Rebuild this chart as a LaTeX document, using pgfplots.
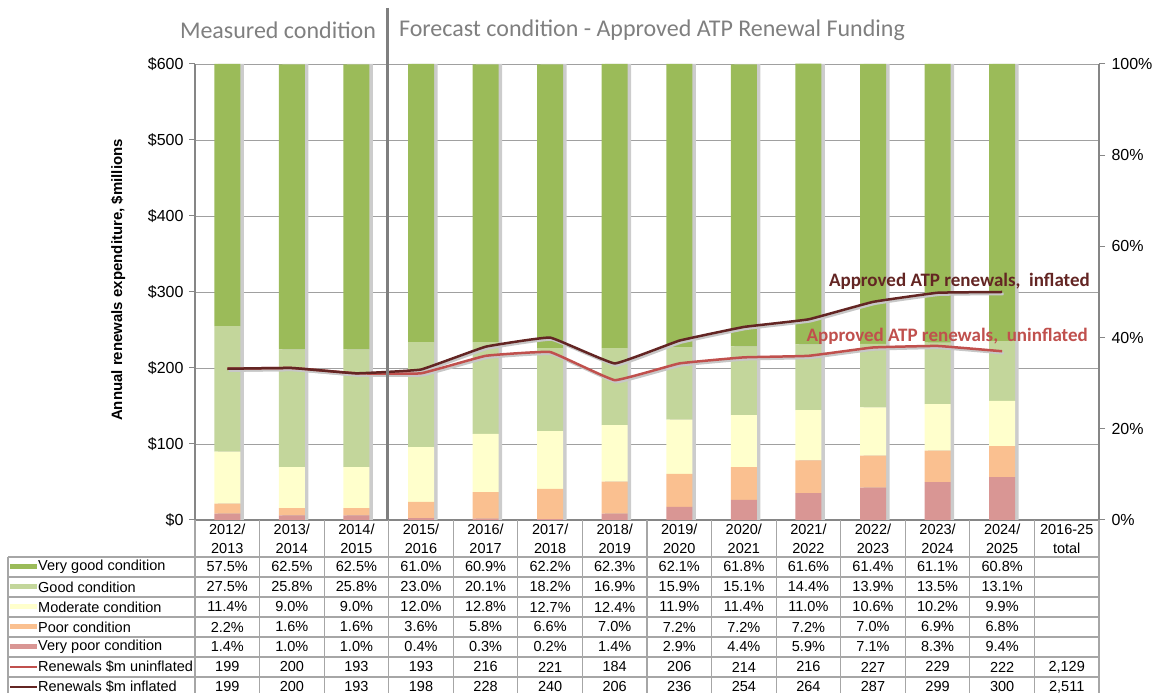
\documentclass[border=0pt]{standalone}
\usepackage{pgfplots}
\usepackage{pgfplotstable}
\pgfplotsset{compat=1.18}
\usepackage{fontspec}
\setmainfont{Liberation Sans}
\newfontfamily\calib{Carlito}
\pgfkeys{/pgf/number format/assume math mode=true}

\definecolor{vgood}{HTML}{9BBB59}
\definecolor{good}{HTML}{C3D69B}
\definecolor{moder}{HTML}{FFFFCC}
\definecolor{poor}{HTML}{FAC090}
\definecolor{vpoor}{HTML}{D99694}
\definecolor{uninf}{HTML}{C0504D}
\definecolor{infl}{HTML}{632523}
\definecolor{axgray}{HTML}{868686}
\definecolor{gridgray}{HTML}{A0A0A0}
\definecolor{titlegray}{HTML}{7F7F7F}
\definecolor{tablegray}{HTML}{A6A6A6}

\pgfplotstableread{
x  vpoor poor moder good vgood full uninf infl
0  1.4   2.2  11.4  27.5 57.5  100  199   199
1  1.0   1.6  9.0   25.8 62.5  100  200   200
2  1.0   1.6  9.0   25.8 62.5  100  193   193
3  0.4   3.6  12.0  23.0 61.0  100  193   198
4  0.3   5.8  12.8  20.1 60.9  100  216   228
5  0.2   6.6  12.7  18.2 62.2  100  221   240
6  1.4   7.0  12.4  16.9 62.3  100  184   206
7  2.9   7.2  11.9  15.9 62.1  100  206   236
8  4.4   7.2  11.4  15.1 61.8  100  214   254
9  5.9   7.2  11.0  14.4 61.6  100  216   264
10 7.1   7.0  10.6  13.9 61.4  100  227   287
11 8.3   6.9  10.2  13.5 61.1  100  229   299
12 9.4   6.8  9.9   13.1 60.8  100  222   300
}\data

\pgfplotsset{
  base/.style={
    at={(195pt,173pt)}, anchor=south west, scale only axis,
    width=904pt, height=456pt,
    xmin=-0.5, xmax=13.5,
  }
}

\begin{document}
\begin{tikzpicture}[x=1pt,y=1pt]

% Axis A: grid, left ticks, bar shadows
\begin{axis}[base,
  ymin=0, ymax=100,
  axis x line*=bottom, axis y line*=left,
  xtick=\empty,
  ytick={0,16.6667,33.3333,50,66.6667,83.3333,100},
  yticklabels={\$0,\$100,\$200,\$300,\$400,\$500,\$600},
  ymajorgrids, grid style={color=gridgray, line width=0.9pt},
  axis line style={color=axgray, line width=1.3pt, -},
  tick style={color=axgray, line width=1pt},
  tick align=outside, major tick length=6pt,
  yticklabel style={font=\fontsize{16}{18}\selectfont, xshift=-2pt},
]
\addplot[ybar, bar width=26pt, bar shift=3.5pt, fill=black!20, draw=none] table[x=x, y=full] {\data};
\end{axis}

% Axis B: stacked bars, right axis
\begin{axis}[base,
  ymin=0, ymax=100,
  axis y line*=right, axis x line=none,
  ytick={0,20,...,100},
  yticklabel={\pgfmathprintnumber{\tick}\%},
  axis line style={color=axgray, line width=1.3pt, -},
  tick style={color=axgray, line width=1pt},
  tick align=outside, major tick length=6pt,
  yticklabel style={font=\fontsize{16}{18}\selectfont, xshift=3pt},
  ybar stacked, bar width=26pt,
]
\addplot[fill=vpoor, draw=none] table[x=x, y=vpoor] {\data};
\addplot[fill=poor, draw=none] table[x=x, y=poor] {\data};
\addplot[fill=moder, draw=none] table[x=x, y=moder] {\data};
\addplot[fill=good, draw=none] table[x=x, y=good] {\data};
\addplot[fill=vgood, draw=none] table[x=x, y=vgood] {\data};
\end{axis}

% Axis C: lines in $m
\begin{axis}[base, ymin=0, ymax=600, hide axis]
\addplot[black!22, line width=2.5pt, smooth, tension=0.15, no markers, transform canvas={xshift=1.5pt, yshift=-2pt}] table[x=x, y=uninf] {\data};
\addplot[black!22, line width=2.5pt, smooth, tension=0.15, no markers, transform canvas={xshift=1.5pt, yshift=-2pt}] table[x=x, y=infl] {\data};
\addplot[uninf, line width=2.5pt, smooth, tension=0.15, no markers, line join=round] table[x=x, y=uninf] {\data};
\addplot[infl, line width=2.5pt, smooth, tension=0.15, no markers, line join=round] table[x=x, y=infl] {\data};
\end{axis}

% y label
\node[rotate=90, font=\bfseries\fontsize{15}{17}\selectfont] at (118, 413) {Annual renewals expenditure, \$millions};

% line labels
\node[anchor=east, inner sep=0pt, text=infl, font=\calib\bfseries\fontsize{19}{22}\selectfont] at (1090, 412) {Approved ATP renewals,\ \ inflated};
\node[anchor=east, inner sep=0pt, text=uninf, font=\calib\bfseries\fontsize{19}{22}\selectfont] at (1088, 357) {Approved ATP renewals,\ \ uninflated};

% titles
\node[text=titlegray, font=\calib\fontsize{24}{28}\selectfont] at (278, 663) {Measured condition};
\node[text=titlegray, font=\calib\fontsize{24}{28}\selectfont] at (652, 663) {Forecast condition - Approved ATP Renewal Funding};

% divider
\draw[color=titlegray, line width=3pt] (387, 685) -- (387, 173);

% ---- data table ----
\def\sw{64.5714}
\begin{scope}[tablegray, line width=1.2pt]
  \foreach \k in {0,...,7} { \draw (8, 136-20*\k) -- (1099, 136-20*\k); }
  \draw (8, 136) -- (8, -10);
  \foreach \k in {0,...,14} { \draw (195+\sw*\k, 173) -- (195+\sw*\k, -10); }
\end{scope}

\begin{scope}[font=\fontsize{14.5}{19}\selectfont]
  \foreach \i/\a/\b in {0/2012/2013,1/2013/2014,2/2014/2015,3/2015/2016,4/2016/2017,5/2017/2018,6/2018/2019,7/2019/2020,8/2020/2021,9/2021/2022,10/2022/2023,11/2023/2024,12/2024/2025} {
    \node[align=center, inner sep=0pt] at (195+\sw*\i+\sw/2, 154) {\a/\\\b};
  }
  \node[align=center, inner sep=0pt] at (195+\sw*13+\sw/2, 154) {2016-25\\total};

  % row labels with keys
  \foreach \r/\c/\t in {0/vgood/Very good condition,1/good/Good condition,2/moder/Moderate condition,3/poor/Poor condition,4/vpoor/Very poor condition} {
    \fill[\c] (10, 126-20*\r-2.5) rectangle (37, 126-20*\r+2.5);
    \node[anchor=west, inner sep=0pt] at (38, 126-20*\r) {\t};
  }
  \draw[uninf, line width=1.8pt] (10, 26) -- (37, 26);
  \node[anchor=west, inner sep=0pt] at (38, 26) {Renewals \$m uninflated};
  \draw[infl, line width=1.8pt] (10, 6) -- (37, 6);
  \node[anchor=west, inner sep=0pt] at (38, 6) {Renewals \$m inflated};

  % values
  \foreach \r/\c in {0/vgood,1/good,2/moder,3/poor,4/vpoor} {
    \foreach \i in {0,...,12} {
      \pgfplotstablegetelem{\i}{\c}\of\data
      \node[inner sep=0pt] at (195+\sw*\i+\sw/2, 126-20*\r) {\pgfmathprintnumber[fixed, fixed zerofill, precision=1]{\pgfplotsretval}\%};
    }
  }
  \foreach \r/\c in {5/uninf,6/infl} {
    \foreach \i in {0,...,12} {
      \pgfplotstablegetelem{\i}{\c}\of\data
      \node[inner sep=0pt] at (195+\sw*\i+\sw/2, 126-20*\r) {\pgfmathprintnumber[fixed, precision=0]{\pgfplotsretval}};
    }
  }
  \node[inner sep=0pt] at (195+\sw*13+\sw/2, 26) {2,129};
  \node[inner sep=0pt] at (195+\sw*13+\sw/2, 6) {2,511};
\end{scope}

\pgfresetboundingbox
\useasboundingbox (0,0) rectangle (1165,693);
\end{tikzpicture}
\end{document}
